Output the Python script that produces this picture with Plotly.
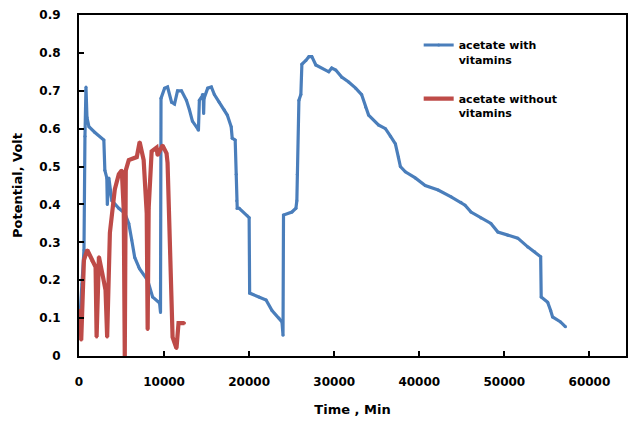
import plotly.graph_objects as go

# Electrode potential over time for the two acetate media
time_with = [0, 350, 585, 700, 760, 820, 935, 1170, 1870, 2920, 3040, 3270, 3330, 3510, 3860,
             4680, 5380, 5850, 6200, 6550, 7020, 7130, 8070, 8650, 9470, 9580, 9640, 10060,
             10410, 10880, 11230, 11580, 12050, 12630, 12980, 13330, 13800, 14040, 14150,
             14500, 14600, 14650, 14700, 15130, 15560, 15910, 16490, 17070, 17430, 17890,
             18010, 18360, 18480, 18540, 18600, 18830, 19770, 20000,
             20060, 21170, 21990, 22690, 23510, 23860, 23980, 24040, 25030, 25500, 25610,
             25670, 25850, 26080, 26200, 26670, 27020, 27370, 27840, 29360, 29710, 30180,
             30880, 31700, 32520, 33220, 33680, 34040, 35200, 36020, 36610, 37190, 37540,
             37780, 38360, 39530, 40700, 42220, 43740, 44910, 45380, 46080, 47250, 48420,
             49240, 50410, 51580, 52750, 53570, 54270, 54330, 55090, 55440, 55670, 56610,
             57190]
volt_with = [0.06, 0.19, 0.28, 0.58, 0.70, 0.71, 0.63, 0.605, 0.59, 0.57, 0.49, 0.47, 0.40,
             0.47, 0.41, 0.39, 0.377, 0.35, 0.306, 0.26, 0.235, 0.23, 0.20, 0.156, 0.14,
             0.115, 0.68, 0.707, 0.71, 0.67, 0.665, 0.70, 0.70, 0.675, 0.65, 0.62, 0.605,
             0.596, 0.675, 0.69, 0.69, 0.64, 0.68, 0.707, 0.71, 0.69, 0.67, 0.65, 0.636,
             0.605, 0.575, 0.57, 0.48, 0.41, 0.39, 0.39, 0.37, 0.365,
             0.166, 0.156, 0.148, 0.12, 0.10, 0.09, 0.055, 0.372, 0.38, 0.39, 0.41, 0.48,
             0.675, 0.69, 0.77, 0.78, 0.79, 0.79, 0.768, 0.75, 0.76, 0.755, 0.736, 0.723,
             0.707, 0.69, 0.657, 0.636, 0.61, 0.60, 0.58, 0.56, 0.525, 0.50, 0.486, 0.47,
             0.45, 0.438, 0.42, 0.406, 0.398, 0.38, 0.364, 0.35, 0.327, 0.319, 0.311, 0.288,
             0.275, 0.262, 0.156, 0.142, 0.12, 0.103, 0.09, 0.077]

time_without = [0, 200, 260, 580, 970, 1370, 1560, 1950, 2070, 2340, 2720, 3120, 3310, 3630,
                4210, 4680, 5030, 5260, 5380, 5500, 5850, 6790, 7130, 7600, 7960,
                8070, 8190, 8540, 9120, 9240, 9820, 10290, 10410, 10640, 10880, 11000, 11230,
                11460, 11700, 12400]
volt_without = [0.117, 0.12, 0.042, 0.253, 0.28, 0.262, 0.25, 0.235, 0.05, 0.262, 0.22,
                0.174, 0.05, 0.325, 0.44, 0.48, 0.49, 0.385, 0.0, 0.49, 0.517, 0.525,
                0.565, 0.517, 0.377, 0.07, 0.39, 0.54, 0.55, 0.53, 0.556, 0.535, 0.51, 0.33,
                0.156, 0.05, 0.035, 0.02, 0.087, 0.087]

series_names = ["acetate with<br>vitamins", "acetate without<br>vitamins"]
x_ticks = [0, 10000, 20000, 30000, 40000, 50000, 60000]
y_ticks = [0, 0.1, 0.2, 0.3, 0.4, 0.5, 0.6, 0.7, 0.8, 0.9]

BLUE = "#4a7ebb"
RED = "#be4b48"
FONT = "DejaVu Sans"

fig = go.Figure()
fig.add_trace(go.Scatter(
    x=time_with, y=volt_with, name=series_names[0], legendgroup="a",
    mode="lines+markers", line=dict(color=BLUE, width=3.2),
    marker=dict(color=BLUE, size=3),
))
fig.add_trace(go.Scatter(
    x=time_without, y=volt_without, name=series_names[1], legendgroup="b",
    mode="lines+markers", line=dict(color=RED, width=4.2),
    marker=dict(color=RED, size=3),
))

axis_common = dict(
    showline=True, linecolor="black", linewidth=2, mirror=True,
    ticks="inside", ticklen=5, tickwidth=2, tickcolor="black",
    showgrid=False, zeroline=False,
    tickfont=dict(family=FONT, size=12, color="black", weight="bold"),
)
title_font = dict(family=FONT, size=13, color="black", weight="bold")

fig.update_layout(
    width=629, height=426,
    margin=dict(l=79, r=1, t=15, b=70),
    paper_bgcolor="white", plot_bgcolor="white",
    font=dict(family=FONT, color="black"),
    xaxis=dict(
        range=[0, 64300], tickvals=x_ticks, tickformat="d",
        ticklabelstandoff=14,
        title=dict(text="Time , Min", standoff=16, font=title_font),
        **axis_common,
    ),
    yaxis=dict(
        range=[0, 0.9], tickvals=y_ticks,
        ticklabelstandoff=14,
        title=dict(text="Potential, Volt", standoff=14, font=title_font),
        **axis_common,
    ),
    legend=dict(
        x=0.621, y=0.952, xanchor="left", yanchor="top",
        bgcolor="rgba(0,0,0,0)", valign="top", tracegroupgap=22,
        font=dict(family=FONT, size=11, color="black", weight="bold"),
    ),
)

fig.write_html("out.html")
